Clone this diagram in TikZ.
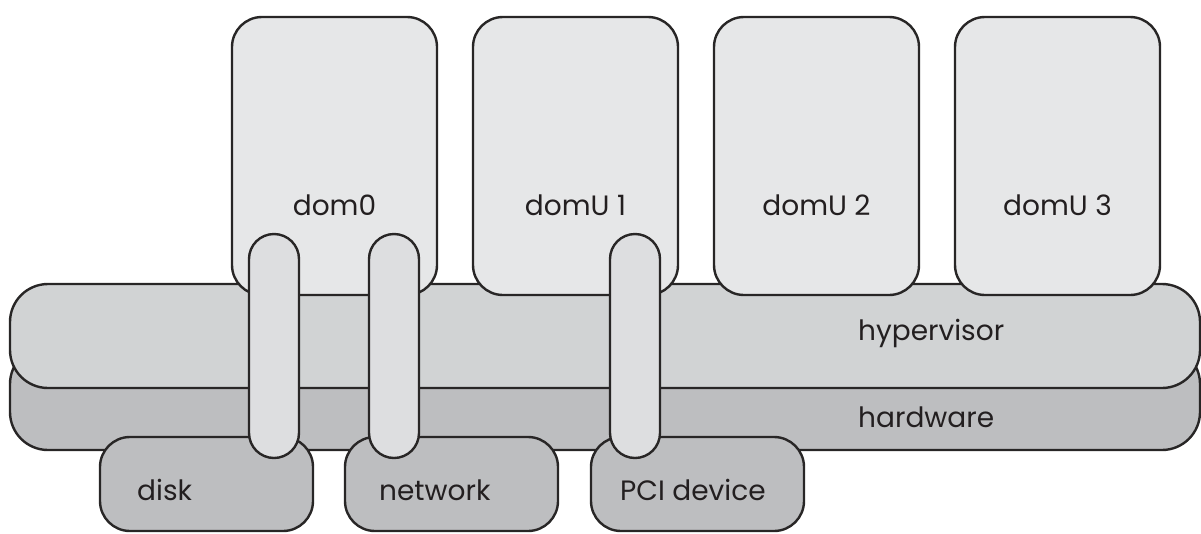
\documentclass[tikz,border=0pt]{standalone}
\usepackage{fontspec}
\setmainfont{Poppins}
\usepackage{tikz}
\usetikzlibrary{positioning}
\definecolor{domcolor}{RGB}{230,231,232}
\definecolor{hypercolor}{RGB}{209,211,212}
\definecolor{hwcolor}{RGB}{189,190,192}
\definecolor{pipecolor}{RGB}{221,222,224}
\definecolor{edgecolor}{RGB}{40,38,38}
\definecolor{textcolor}{RGB}{35,31,32}

\begin{document}
\begin{tikzpicture}[x=1pt, y=-1pt,
    box/.style={draw=edgecolor, line width=2.4pt, inner sep=0pt, outer sep=0pt},
    dombox/.style={box, fill=domcolor, rounded corners=30pt,
        minimum width=205pt, minimum height=278pt},
    layer/.style={box, rounded corners=38pt,
        minimum width=1190pt, minimum height=104pt},
    devbox/.style={box, fill=hwcolor, rounded corners=30pt,
        minimum width=213pt, minimum height=94pt},
    pipe/.style={box, fill=pipecolor, rounded corners=25pt,
        minimum width=50pt, minimum height=224pt},
    lbl/.style={text=textcolor, font=\fontsize{28}{31}\selectfont, inner sep=0pt}
]
\useasboundingbox (0,0) rectangle (1201,533);

% layers
\node[layer, fill=hwcolor] (hardware) at (605,398) {};
\node[layer, fill=hypercolor] (hypervisor) at (605,336) {};

% domains
\node[dombox] (dom0) at (334.5,156) {};
\node[dombox, right=36pt of dom0] (domU1) {};
\node[dombox, right=36pt of domU1] (domU2) {};
\node[dombox, right=36pt of domU2] (domU3) {};

% devices
\node[devbox] (disk) at (206.5,484) {};
\node[devbox, right=32pt of disk] (network) {};
\node[devbox, right=33pt of network] (pci) {};

% passthrough
\node[pipe] (pipe1) at (274,346) {};
\node[pipe] (pipe2) at (394,346) {};
\node[pipe] (pipe3) at (635,346) {};

% labels
\node[lbl] (dom0-txt) at ([yshift=-49pt]dom0.center) {dom0};
\node[lbl] (domU1-txt) at ([yshift=-49pt]domU1.center) {domU 1};
\node[lbl] (domU2-txt) at ([yshift=-49pt]domU2.center) {domU 2};
\node[lbl] (domU3-txt) at ([yshift=-49pt]domU3.center) {domU 3};
\node[lbl, anchor=west] (hyper-txt) at (858,333) {hypervisor};
\node[lbl, anchor=west] (hw-txt) at (858,417) {hardware};
\node[lbl, anchor=west] (disk-txt) at (137,490) {disk};
\node[lbl, anchor=west] (net-txt) at (379,490) {network};
\node[lbl, anchor=west] (pci-txt) at (620,490) {PCI device};
\end{tikzpicture}
\end{document}
